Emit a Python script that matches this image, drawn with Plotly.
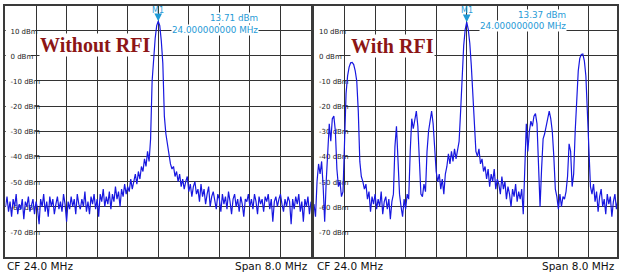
import numpy as np
import plotly.graph_objects as go

# ---------------- data ----------------
span_start_mhz = 20.0
span_stop_mhz = 28.0
n_sweep_points = 201
freq_mhz = np.linspace(span_start_mhz, span_stop_mhz, n_sweep_points)  # sweep points

level_without_rfi = [
    -60, -56, -62, -58, -64, -57, -60, -55, -63, -59,
    -61, -57, -65, -58, -60, -56, -62, -59, -57, -63,
    -58, -61, -67, -57, -60, -55, -62, -58, -64, -56,
    -60, -57, -63, -59, -56, -61, -58, -62, -55, -59,
    -66, -58, -61, -56, -60, -57, -63, -55, -59, -61,
    -57, -60, -54, -62, -58, -63, -56, -59, -55, -61,
    -57, -64, -55, -58, -53, -60, -56, -59, -54, -61,
    -55, -58, -52, -57, -54, -60, -53, -56, -51, -55,
    -52, -54, -49, -53, -50, -47, -51, -46, -49, -44,
    -46, -41, -44, -38, -42,
    -33, -10, -1, 7, 12, 13.71, 12, 6, -3, -24, -31, -36, -39, -43,
    -45, -44, -48, -46, -50, -47, -52, -49, -53, -50, -48,
    -54, -51, -56, -52, -50, -55, -53, -58, -51, -56,
    -53, -59, -55, -52, -60, -56, -54, -58, -61, -55,
    -57, -62, -55, -59, -56, -61, -54, -58, -63, -57,
    -55, -60, -57, -62, -56, -59, -64, -57, -58, -55,
    -60, -57, -61, -55, -58, -63, -56, -59, -57, -62,
    -56, -58, -55, -61, -57, -66, -58, -56, -60, -57,
    -55, -59, -62, -57, -60, -56, -58, -67, -57, -61,
    -56, -59, -55, -62, -58, -66, -57, -60, -56, -63, -58,
]

level_with_rfi = [
    -59, -64, -50, -43, -47, -42, -52, -66, -50,
    -40, -27, -34, -25, -24, -30, -45, -52,
    -50, -56,
    -54, -35, -15, -8, -4.5, -2.8, -2.6, -3.5, -6, -10, -22, -42, -48, -50,
    -53, -51, -57, -54, -62, -56, -59, -55, -61, -57, -60, -54, -63, -58, -56, -61, -57, -65, -58, -55,
    -36, -28, -40,
    -55, -60, -64, -57, -61, -55,
    -57, -38, -25, -29, -26, -22, -28, -45, -55, -56, -51, -54,
    -38, -30, -25, -22, -27, -38, -46, -50, -47, -53, -49, -55, -47,
    -44, -39, -43, -38, -42, -37, -41,
    -38, -34, -22, -5, 4, 10.5, 13.37, 10.5, 5, -4, -17, -30, -38, -40, -37, -43, -41,
    -46, -44, -49, -45, -52, -47, -50, -45, -53, -49,
    -51, -55, -48, -53, -50, -57, -52, -55, -60, -53, -56, -51, -58, -54, -57, -53,
    -63, -40, -27, -38, -30, -26, -28, -24, -23, -27, -47, -60, -45, -33, -31,
    -28, -26, -22, -25, -30, -40, -53, -56, -61, -55, -60, -56, -57, -54, -48,
    -35, -38, -52, -47, -30, -17, -6, -1, 0.5, 0.7, -2, -8, -21, -38, -52,
    -55, -51, -58, -54, -62, -56, -53, -60, -57, -63, -55, -59, -56, -64, -58, -55, -61, -57, -60,
]

panel_titles = ["Without RFI", "With RFI"]
marker_name = "M1"
marker_freq_mhz = 24.0
marker_levels_dbm = [13.71, 13.37]
y_tick_levels = [10, 0, -10, -20, -30, -40, -50, -60, -70]
y_range_dbm = [-80, 20]
cf_label = "CF 24.0 MHz"
span_label = "Span 8.0 MHz"

# ---------------- geometry / style ----------------
W, H = 619, 280
PX_PER_MHZ = 306.5 / (span_stop_mhz - span_start_mhz)
L_DOM = [5.5 / W, 312 / W]
R_DOM = [315 / W, 1.0]
Y_DOM = [1 - 257 / H, 1 - 5.5 / H]
right_max = span_start_mhz + (W - 315) / PX_PER_MHZ

TRACE_COLOR = "#1818e0"
MARKER_COLOR = "#1f9ad6"
GRID_COLOR = "#333333"
FRAME_COLOR = "#3a3a3a"
TITLE_COLOR = "#8c1616"
SANS = "DejaVu Sans"

fig = go.Figure()
fig.add_trace(go.Scatter(x=freq_mhz, y=level_without_rfi, mode="lines",
                         line=dict(color=TRACE_COLOR, width=1.2),
                         xaxis="x", yaxis="y", hoverinfo="skip"))
fig.add_trace(go.Scatter(x=freq_mhz, y=level_with_rfi, mode="lines",
                         line=dict(color=TRACE_COLOR, width=1.2),
                         xaxis="x2", yaxis="y2", hoverinfo="skip"))

ax_common = dict(showgrid=True, gridcolor=GRID_COLOR, gridwidth=1,
                 showline=True, linecolor=FRAME_COLOR, linewidth=2, mirror=True,
                 ticks="", showticklabels=False, zeroline=False, fixedrange=True)

fig.update_layout(
    width=W, height=H,
    margin=dict(l=0, r=0, t=0, b=0),
    paper_bgcolor="white", plot_bgcolor="white",
    showlegend=False,
    xaxis=dict(domain=L_DOM, range=[span_start_mhz, span_stop_mhz], tick0=span_start_mhz,
               dtick=0.8, anchor="y", **ax_common),
    xaxis2=dict(domain=R_DOM, range=[span_start_mhz, right_max], tick0=span_start_mhz,
                dtick=0.8, anchor="y2", **ax_common),
    yaxis=dict(domain=Y_DOM, range=y_range_dbm, tick0=0, dtick=10, anchor="x", **ax_common),
    yaxis2=dict(domain=Y_DOM, range=y_range_dbm, tick0=0, dtick=10, anchor="x2", **ax_common),
)

# in-plot y tick labels (white boxes beneath the trace, above the grid)
ADV = {"0": .636, "1": .636, "2": .636, "3": .636, "4": .636, "5": .636, "6": .636,
       "7": .636, "8": .636, "9": .636, " ": .318, "-": .361, "d": .635, "B": .686, "m": .974}
TICK_FS = 7
PAD = 2
for xr, yr in (("x", "y"), ("x2", "y2")):
    for lvl in y_tick_levels:
        txt = f"{lvl} dBm"
        w = sum(ADV[c] for c in txt) * TICK_FS
        box_px = min(PAD + w + 1, 0.8 * PX_PER_MHZ - 0.8)
        fig.add_shape(type="rect", xref=xr, yref=yr, layer="between",
                      x0=span_start_mhz, x1=span_start_mhz + box_px / PX_PER_MHZ,
                      y0=lvl - 2.6, y1=lvl + 2.6, fillcolor="white", line_width=0,
                      label=dict(text=txt, textposition="middle left", padding=PAD,
                                 font=dict(family=SANS, size=TICK_FS, color="#222222")))

# panel titles
title_pos = [(39, 45.5), (351, 46)]
for (px, py), t in zip(title_pos, panel_titles):
    fig.add_annotation(xref="paper", yref="paper", x=px / W, y=1 - py / H,
                       xanchor="left", yanchor="middle", showarrow=False,
                       text=f"<b>{t}</b>", bgcolor="white", borderpad=0,
                       font=dict(family="Liberation Serif", size=20, color=TITLE_COLOR))

# marker readouts
mk = [dict(xr="x", yr="y", ay=-11, lvl_y=18.3, f_y=30.0, right=260),
      dict(xr="x2", yr="y2", ay=-11.6, lvl_y=15.3, f_y=26.3, right=569.3)]
for cfg, lvl in zip(mk, marker_levels_dbm):
    # "M1" label with a small down-pointing arrowhead whose tip sits on the peak
    fig.add_annotation(xref=cfg["xr"], yref=cfg["yr"], x=marker_freq_mhz, y=lvl,
                       ax=0, ay=cfg["ay"], showarrow=True, arrowhead=2, arrowsize=1.4,
                       arrowwidth=1.1, arrowcolor=MARKER_COLOR, standoff=0,
                       text=marker_name, borderpad=0,
                       font=dict(family=SANS, size=8, color=MARKER_COLOR))
    fig.add_annotation(xref="paper", yref="paper", x=cfg["right"] / W, y=1 - cfg["lvl_y"] / H,
                       xanchor="right", yanchor="middle", showarrow=False,
                       text=f"{lvl:.2f} dBm", bgcolor="white", borderpad=0,
                       font=dict(family=SANS, size=8.8, color=MARKER_COLOR))
    fig.add_annotation(xref="paper", yref="paper", x=cfg["right"] / W, y=1 - cfg["f_y"] / H,
                       xanchor="right", yanchor="middle", showarrow=False,
                       text=f"{marker_freq_mhz:.9f} MHz", bgcolor="white", borderpad=0,
                       font=dict(family=SANS, size=8.8, color=MARKER_COLOR))

# footer labels
for left_px, right_px in ((5, 311), (316.5, 619)):
    fig.add_annotation(xref="paper", yref="paper", x=left_px / W, y=1 - 266.4 / H,
                       xanchor="left", yanchor="middle", showarrow=False, text=cf_label,
                       font=dict(family=SANS, size=10.5, color="#111111"))
    fig.add_annotation(xref="paper", yref="paper", x=right_px / W, y=1 - 266.4 / H,
                       xanchor="right", yanchor="middle", showarrow=False, text=span_label,
                       font=dict(family=SANS, size=10.5, color="#111111"))

fig.write_html("out.html", config={"displayModeBar": False},
               post_script="document.body.style.margin='0';document.body.style.overflow='hidden';")
